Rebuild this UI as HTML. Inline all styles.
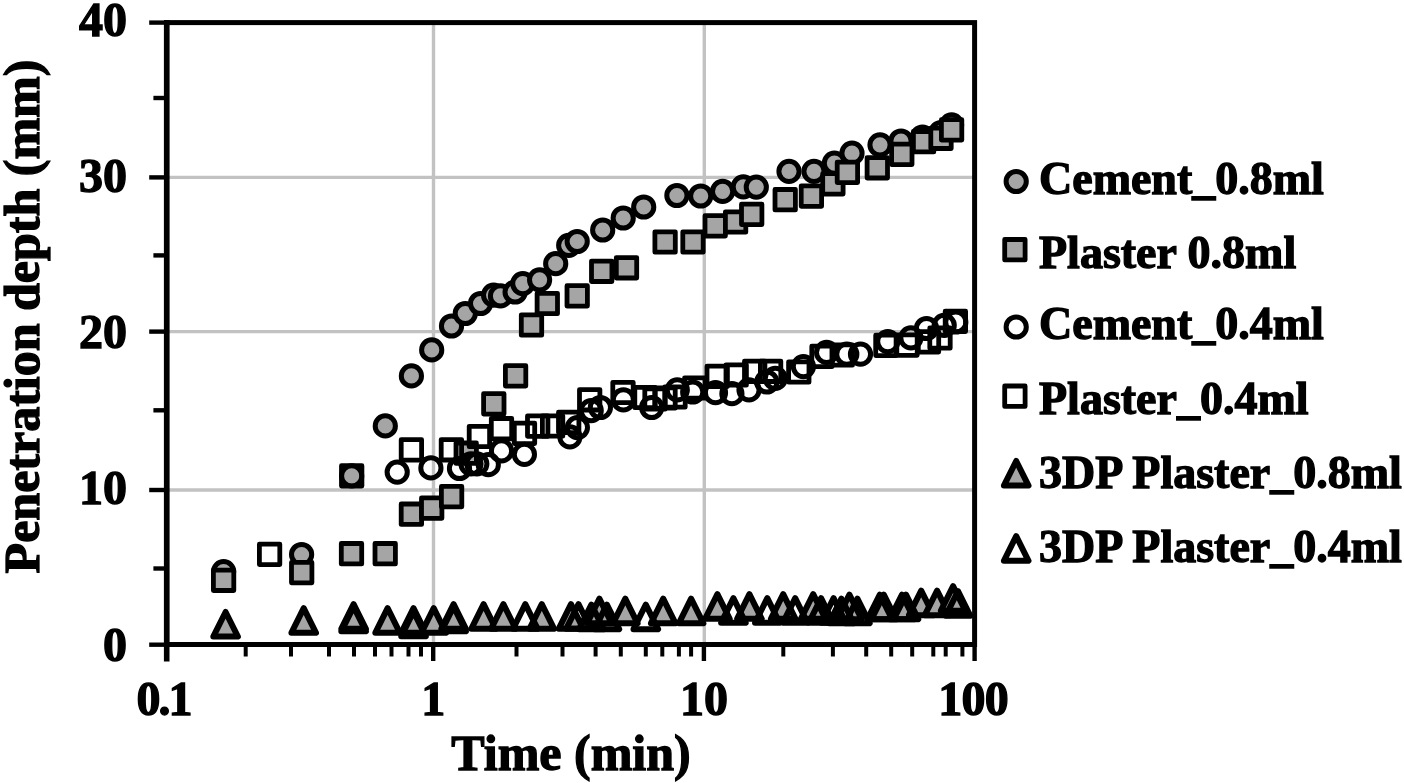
<!DOCTYPE html>
<html><head><meta charset="utf-8"><style>
html,body{margin:0;padding:0;background:#fff;}
body{width:1404px;height:783px;overflow:hidden;font-family:"Liberation Serif",serif;}
svg{display:block;filter:blur(0.45px);}
</style></head><body>
<svg width="1404" height="783" viewBox="0 0 1404 783">
<rect width="1404" height="783" fill="#fff"/>
<line x1="433.5" y1="22.6" x2="433.5" y2="644.5" stroke="#c2c2c2" stroke-width="3.4"/>
<line x1="704.3" y1="22.6" x2="704.3" y2="644.5" stroke="#c2c2c2" stroke-width="3.4"/>
<line x1="166.7" y1="490.0" x2="974.6" y2="490.0" stroke="#c2c2c2" stroke-width="3.4"/>
<line x1="166.7" y1="331.6" x2="974.6" y2="331.6" stroke="#c2c2c2" stroke-width="3.4"/>
<line x1="166.7" y1="177.4" x2="974.6" y2="177.4" stroke="#c2c2c2" stroke-width="3.4"/>
<rect x="166.7" y="22.6" width="807.9" height="621.9" fill="none" stroke="#000" stroke-width="5"/>
<line x1="166.7" y1="20.1" x2="166.7" y2="661.5" stroke="#000" stroke-width="5.6"/>
<line x1="149.2" y1="644.7" x2="166.7" y2="644.7" stroke="#000" stroke-width="4.4"/>
<line x1="153.4" y1="568.5" x2="166.7" y2="568.5" stroke="#000" stroke-width="4.4"/>
<line x1="149.2" y1="490.0" x2="166.7" y2="490.0" stroke="#000" stroke-width="4.4"/>
<line x1="153.4" y1="410.3" x2="166.7" y2="410.3" stroke="#000" stroke-width="4.4"/>
<line x1="149.2" y1="331.6" x2="166.7" y2="331.6" stroke="#000" stroke-width="4.4"/>
<line x1="153.4" y1="255.4" x2="166.7" y2="255.4" stroke="#000" stroke-width="4.4"/>
<line x1="149.2" y1="177.4" x2="166.7" y2="177.4" stroke="#000" stroke-width="4.4"/>
<line x1="153.4" y1="98.0" x2="166.7" y2="98.0" stroke="#000" stroke-width="4.4"/>
<line x1="149.2" y1="22.6" x2="166.7" y2="22.6" stroke="#000" stroke-width="4.4"/>
<line x1="166.7" y1="644.5" x2="166.7" y2="661" stroke="#000" stroke-width="4.4"/>
<line x1="433.2" y1="644.5" x2="433.2" y2="661" stroke="#000" stroke-width="4.4"/>
<line x1="703.9" y1="644.5" x2="703.9" y2="661" stroke="#000" stroke-width="4.4"/>
<line x1="974.6" y1="644.5" x2="974.6" y2="661" stroke="#000" stroke-width="4.4"/>
<line x1="245.7" y1="644.5" x2="245.7" y2="656.5" stroke="#000" stroke-width="4"/>
<line x1="291.0" y1="644.5" x2="291.0" y2="656.5" stroke="#000" stroke-width="4"/>
<line x1="329.0" y1="644.5" x2="329.0" y2="656.5" stroke="#000" stroke-width="4"/>
<line x1="354.0" y1="644.5" x2="354.0" y2="656.5" stroke="#000" stroke-width="4"/>
<line x1="375.0" y1="644.5" x2="375.0" y2="656.5" stroke="#000" stroke-width="4"/>
<line x1="391.5" y1="644.5" x2="391.5" y2="656.5" stroke="#000" stroke-width="4"/>
<line x1="408.5" y1="644.5" x2="408.5" y2="656.5" stroke="#000" stroke-width="4"/>
<line x1="421.0" y1="644.5" x2="421.0" y2="656.5" stroke="#000" stroke-width="4"/>
<line x1="516.5" y1="644.5" x2="516.5" y2="656.5" stroke="#000" stroke-width="4"/>
<line x1="562.5" y1="644.5" x2="562.5" y2="656.5" stroke="#000" stroke-width="4"/>
<line x1="595.6" y1="644.5" x2="595.6" y2="656.5" stroke="#000" stroke-width="4"/>
<line x1="620.8" y1="644.5" x2="620.8" y2="656.5" stroke="#000" stroke-width="4"/>
<line x1="645.8" y1="644.5" x2="645.8" y2="656.5" stroke="#000" stroke-width="4"/>
<line x1="662.3" y1="644.5" x2="662.3" y2="656.5" stroke="#000" stroke-width="4"/>
<line x1="678.9" y1="644.5" x2="678.9" y2="656.5" stroke="#000" stroke-width="4"/>
<line x1="691.1" y1="644.5" x2="691.1" y2="656.5" stroke="#000" stroke-width="4"/>
<line x1="783.3" y1="644.5" x2="783.3" y2="656.5" stroke="#000" stroke-width="4"/>
<line x1="832.9" y1="644.5" x2="832.9" y2="656.5" stroke="#000" stroke-width="4"/>
<line x1="866.2" y1="644.5" x2="866.2" y2="656.5" stroke="#000" stroke-width="4"/>
<line x1="891.2" y1="644.5" x2="891.2" y2="656.5" stroke="#000" stroke-width="4"/>
<line x1="912.2" y1="644.5" x2="912.2" y2="656.5" stroke="#000" stroke-width="4"/>
<line x1="933.3" y1="644.5" x2="933.3" y2="656.5" stroke="#000" stroke-width="4"/>
<line x1="945.7" y1="644.5" x2="945.7" y2="656.5" stroke="#000" stroke-width="4"/>
<line x1="962.4" y1="644.5" x2="962.4" y2="656.5" stroke="#000" stroke-width="4"/>
<circle cx="223.6" cy="571.7" r="10.1" fill="#a5a5a5" stroke="#000" stroke-width="5"/>
<circle cx="301.6" cy="554.5" r="10.1" fill="#a5a5a5" stroke="#000" stroke-width="5"/>
<circle cx="351.7" cy="475.9" r="10.1" fill="#a5a5a5" stroke="#000" stroke-width="5"/>
<circle cx="385.3" cy="425.9" r="10.1" fill="#a5a5a5" stroke="#000" stroke-width="5"/>
<circle cx="411.4" cy="375.9" r="10.1" fill="#a5a5a5" stroke="#000" stroke-width="5"/>
<circle cx="431.7" cy="349.9" r="10.1" fill="#a5a5a5" stroke="#000" stroke-width="5"/>
<circle cx="451.5" cy="326.0" r="10.1" fill="#a5a5a5" stroke="#000" stroke-width="5"/>
<circle cx="465.3" cy="313.5" r="10.1" fill="#a5a5a5" stroke="#000" stroke-width="5"/>
<circle cx="480.6" cy="303.5" r="10.1" fill="#a5a5a5" stroke="#000" stroke-width="5"/>
<circle cx="493.6" cy="295.1" r="10.1" fill="#a5a5a5" stroke="#000" stroke-width="5"/>
<circle cx="500.5" cy="295.9" r="10.1" fill="#a5a5a5" stroke="#000" stroke-width="5"/>
<circle cx="515.1" cy="292.0" r="10.1" fill="#a5a5a5" stroke="#000" stroke-width="5"/>
<circle cx="522.8" cy="283.6" r="10.1" fill="#a5a5a5" stroke="#000" stroke-width="5"/>
<circle cx="539.6" cy="279.8" r="10.1" fill="#a5a5a5" stroke="#000" stroke-width="5"/>
<circle cx="555.7" cy="263.7" r="10.1" fill="#a5a5a5" stroke="#000" stroke-width="5"/>
<circle cx="568.7" cy="245.3" r="10.1" fill="#a5a5a5" stroke="#000" stroke-width="5"/>
<circle cx="577.2" cy="241.5" r="10.1" fill="#a5a5a5" stroke="#000" stroke-width="5"/>
<circle cx="602.7" cy="230.0" r="10.1" fill="#a5a5a5" stroke="#000" stroke-width="5"/>
<circle cx="623.2" cy="218.0" r="10.1" fill="#a5a5a5" stroke="#000" stroke-width="5"/>
<circle cx="643.7" cy="207.0" r="10.1" fill="#a5a5a5" stroke="#000" stroke-width="5"/>
<circle cx="676.9" cy="195.5" r="10.1" fill="#a5a5a5" stroke="#000" stroke-width="5"/>
<circle cx="700.7" cy="196.0" r="10.1" fill="#a5a5a5" stroke="#000" stroke-width="5"/>
<circle cx="722.6" cy="191.4" r="10.1" fill="#a5a5a5" stroke="#000" stroke-width="5"/>
<circle cx="743.3" cy="186.8" r="10.1" fill="#a5a5a5" stroke="#000" stroke-width="5"/>
<circle cx="756.3" cy="187.1" r="10.1" fill="#a5a5a5" stroke="#000" stroke-width="5"/>
<circle cx="789.0" cy="171.3" r="10.1" fill="#a5a5a5" stroke="#000" stroke-width="5"/>
<circle cx="814.0" cy="171.3" r="10.1" fill="#a5a5a5" stroke="#000" stroke-width="5"/>
<circle cx="834.4" cy="163.2" r="10.1" fill="#a5a5a5" stroke="#000" stroke-width="5"/>
<circle cx="852.0" cy="153.2" r="10.1" fill="#a5a5a5" stroke="#000" stroke-width="5"/>
<circle cx="880.0" cy="144.8" r="10.1" fill="#a5a5a5" stroke="#000" stroke-width="5"/>
<circle cx="901.0" cy="141.0" r="10.1" fill="#a5a5a5" stroke="#000" stroke-width="5"/>
<circle cx="922.5" cy="137.0" r="10.1" fill="#a5a5a5" stroke="#000" stroke-width="5"/>
<circle cx="941.0" cy="132.5" r="10.1" fill="#a5a5a5" stroke="#000" stroke-width="5"/>
<circle cx="951.6" cy="124.8" r="10.1" fill="#a5a5a5" stroke="#000" stroke-width="5"/>
<rect x="213.4" y="570.1" width="20.4" height="20.4" fill="#a5a5a5" stroke="#000" stroke-width="4.8" stroke-linejoin="round"/>
<rect x="291.5" y="562.4" width="20.4" height="20.4" fill="#a5a5a5" stroke="#000" stroke-width="4.8" stroke-linejoin="round"/>
<rect x="341.3" y="543.5" width="20.4" height="20.4" fill="#a5a5a5" stroke="#000" stroke-width="4.8" stroke-linejoin="round"/>
<rect x="375.0" y="543.5" width="20.4" height="20.4" fill="#a5a5a5" stroke="#000" stroke-width="4.8" stroke-linejoin="round"/>
<rect x="401.2" y="504.0" width="20.4" height="20.4" fill="#a5a5a5" stroke="#000" stroke-width="4.8" stroke-linejoin="round"/>
<rect x="421.5" y="497.9" width="20.4" height="20.4" fill="#a5a5a5" stroke="#000" stroke-width="4.8" stroke-linejoin="round"/>
<rect x="441.4" y="486.4" width="20.4" height="20.4" fill="#a5a5a5" stroke="#000" stroke-width="4.8" stroke-linejoin="round"/>
<rect x="456.0" y="443.0" width="20.4" height="20.4" fill="#a5a5a5" stroke="#000" stroke-width="4.8" stroke-linejoin="round"/>
<rect x="483.6" y="393.7" width="20.4" height="20.4" fill="#a5a5a5" stroke="#000" stroke-width="4.8" stroke-linejoin="round"/>
<rect x="505.4" y="365.7" width="20.4" height="20.4" fill="#a5a5a5" stroke="#000" stroke-width="4.8" stroke-linejoin="round"/>
<rect x="521.3" y="314.8" width="20.4" height="20.4" fill="#a5a5a5" stroke="#000" stroke-width="4.8" stroke-linejoin="round"/>
<rect x="537.1" y="293.3" width="20.4" height="20.4" fill="#a5a5a5" stroke="#000" stroke-width="4.8" stroke-linejoin="round"/>
<rect x="567.0" y="285.7" width="20.4" height="20.4" fill="#a5a5a5" stroke="#000" stroke-width="4.8" stroke-linejoin="round"/>
<rect x="591.5" y="261.1" width="20.4" height="20.4" fill="#a5a5a5" stroke="#000" stroke-width="4.8" stroke-linejoin="round"/>
<rect x="616.3" y="257.6" width="20.4" height="20.4" fill="#a5a5a5" stroke="#000" stroke-width="4.8" stroke-linejoin="round"/>
<rect x="654.9" y="231.8" width="20.4" height="20.4" fill="#a5a5a5" stroke="#000" stroke-width="4.8" stroke-linejoin="round"/>
<rect x="682.8" y="231.8" width="20.4" height="20.4" fill="#a5a5a5" stroke="#000" stroke-width="4.8" stroke-linejoin="round"/>
<rect x="705.0" y="215.7" width="20.4" height="20.4" fill="#a5a5a5" stroke="#000" stroke-width="4.8" stroke-linejoin="round"/>
<rect x="725.4" y="211.8" width="20.4" height="20.4" fill="#a5a5a5" stroke="#000" stroke-width="4.8" stroke-linejoin="round"/>
<rect x="741.5" y="204.2" width="20.4" height="20.4" fill="#a5a5a5" stroke="#000" stroke-width="4.8" stroke-linejoin="round"/>
<rect x="775.0" y="189.5" width="20.4" height="20.4" fill="#a5a5a5" stroke="#000" stroke-width="4.8" stroke-linejoin="round"/>
<rect x="801.2" y="185.9" width="20.4" height="20.4" fill="#a5a5a5" stroke="#000" stroke-width="4.8" stroke-linejoin="round"/>
<rect x="822.7" y="173.7" width="20.4" height="20.4" fill="#a5a5a5" stroke="#000" stroke-width="4.8" stroke-linejoin="round"/>
<rect x="837.2" y="162.2" width="20.4" height="20.4" fill="#a5a5a5" stroke="#000" stroke-width="4.8" stroke-linejoin="round"/>
<rect x="867.1" y="157.6" width="20.4" height="20.4" fill="#a5a5a5" stroke="#000" stroke-width="4.8" stroke-linejoin="round"/>
<rect x="891.6" y="144.2" width="20.4" height="20.4" fill="#a5a5a5" stroke="#000" stroke-width="4.8" stroke-linejoin="round"/>
<rect x="913.4" y="131.5" width="20.4" height="20.4" fill="#a5a5a5" stroke="#000" stroke-width="4.8" stroke-linejoin="round"/>
<rect x="930.8" y="128.1" width="20.4" height="20.4" fill="#a5a5a5" stroke="#000" stroke-width="4.8" stroke-linejoin="round"/>
<rect x="941.4" y="119.7" width="20.4" height="20.4" fill="#a5a5a5" stroke="#000" stroke-width="4.8" stroke-linejoin="round"/>
<circle cx="397.2" cy="472.1" r="10.1" fill="none" stroke="#000" stroke-width="5"/>
<circle cx="430.9" cy="467.9" r="10.1" fill="none" stroke="#000" stroke-width="5"/>
<circle cx="459.5" cy="468.5" r="10.1" fill="none" stroke="#000" stroke-width="5"/>
<circle cx="471.0" cy="463.8" r="10.1" fill="none" stroke="#000" stroke-width="5"/>
<circle cx="476.8" cy="463.8" r="10.1" fill="none" stroke="#000" stroke-width="5"/>
<circle cx="488.3" cy="464.7" r="10.1" fill="none" stroke="#000" stroke-width="5"/>
<circle cx="501.5" cy="450.9" r="10.1" fill="none" stroke="#000" stroke-width="5"/>
<circle cx="524.4" cy="454.4" r="10.1" fill="none" stroke="#000" stroke-width="5"/>
<circle cx="569.9" cy="436.8" r="10.1" fill="none" stroke="#000" stroke-width="5"/>
<circle cx="577.4" cy="427.6" r="10.1" fill="none" stroke="#000" stroke-width="5"/>
<circle cx="591.2" cy="410.6" r="10.1" fill="none" stroke="#000" stroke-width="5"/>
<circle cx="600.4" cy="407.5" r="10.1" fill="none" stroke="#000" stroke-width="5"/>
<circle cx="623.4" cy="399.8" r="10.1" fill="none" stroke="#000" stroke-width="5"/>
<circle cx="651.7" cy="407.5" r="10.1" fill="none" stroke="#000" stroke-width="5"/>
<circle cx="677.3" cy="389.8" r="10.1" fill="none" stroke="#000" stroke-width="5"/>
<circle cx="692.7" cy="392.0" r="10.1" fill="none" stroke="#000" stroke-width="5"/>
<circle cx="715.5" cy="392.7" r="10.1" fill="none" stroke="#000" stroke-width="5"/>
<circle cx="731.9" cy="393.7" r="10.1" fill="none" stroke="#000" stroke-width="5"/>
<circle cx="749.0" cy="389.8" r="10.1" fill="none" stroke="#000" stroke-width="5"/>
<circle cx="766.8" cy="382.0" r="10.1" fill="none" stroke="#000" stroke-width="5"/>
<circle cx="775.3" cy="378.4" r="10.1" fill="none" stroke="#000" stroke-width="5"/>
<circle cx="803.4" cy="366.6" r="10.1" fill="none" stroke="#000" stroke-width="5"/>
<circle cx="826.6" cy="352.4" r="10.1" fill="none" stroke="#000" stroke-width="5"/>
<circle cx="846.8" cy="354.1" r="10.1" fill="none" stroke="#000" stroke-width="5"/>
<circle cx="860.5" cy="354.1" r="10.1" fill="none" stroke="#000" stroke-width="5"/>
<circle cx="887.8" cy="341.6" r="10.1" fill="none" stroke="#000" stroke-width="5"/>
<circle cx="910.9" cy="337.8" r="10.1" fill="none" stroke="#000" stroke-width="5"/>
<circle cx="926.5" cy="328.5" r="10.1" fill="none" stroke="#000" stroke-width="5"/>
<circle cx="944.2" cy="325.3" r="10.1" fill="none" stroke="#000" stroke-width="5"/>
<circle cx="955.8" cy="322.0" r="10.1" fill="none" stroke="#000" stroke-width="5"/>
<rect x="259.4" y="544.2" width="20.4" height="20.4" fill="none" stroke="#000" stroke-width="4.8" stroke-linejoin="round"/>
<rect x="341.5" y="465.7" width="20.4" height="20.4" fill="none" stroke="#000" stroke-width="4.8" stroke-linejoin="round"/>
<rect x="401.2" y="439.7" width="20.4" height="20.4" fill="none" stroke="#000" stroke-width="4.8" stroke-linejoin="round"/>
<rect x="441.2" y="439.6" width="20.4" height="20.4" fill="none" stroke="#000" stroke-width="4.8" stroke-linejoin="round"/>
<rect x="469.2" y="426.3" width="20.4" height="20.4" fill="none" stroke="#000" stroke-width="4.8" stroke-linejoin="round"/>
<rect x="491.3" y="418.5" width="20.4" height="20.4" fill="none" stroke="#000" stroke-width="4.8" stroke-linejoin="round"/>
<rect x="514.3" y="423.2" width="20.4" height="20.4" fill="none" stroke="#000" stroke-width="4.8" stroke-linejoin="round"/>
<rect x="527.5" y="415.9" width="20.4" height="20.4" fill="none" stroke="#000" stroke-width="4.8" stroke-linejoin="round"/>
<rect x="542.4" y="415.8" width="20.4" height="20.4" fill="none" stroke="#000" stroke-width="4.8" stroke-linejoin="round"/>
<rect x="558.5" y="412.2" width="20.4" height="20.4" fill="none" stroke="#000" stroke-width="4.8" stroke-linejoin="round"/>
<rect x="579.5" y="389.6" width="20.4" height="20.4" fill="none" stroke="#000" stroke-width="4.8" stroke-linejoin="round"/>
<rect x="612.8" y="382.3" width="20.4" height="20.4" fill="none" stroke="#000" stroke-width="4.8" stroke-linejoin="round"/>
<rect x="634.8" y="387.3" width="20.4" height="20.4" fill="none" stroke="#000" stroke-width="4.8" stroke-linejoin="round"/>
<rect x="644.8" y="388.8" width="20.4" height="20.4" fill="none" stroke="#000" stroke-width="4.8" stroke-linejoin="round"/>
<rect x="654.8" y="387.8" width="20.4" height="20.4" fill="none" stroke="#000" stroke-width="4.8" stroke-linejoin="round"/>
<rect x="664.8" y="386.8" width="20.4" height="20.4" fill="none" stroke="#000" stroke-width="4.8" stroke-linejoin="round"/>
<rect x="684.6" y="377.8" width="20.4" height="20.4" fill="none" stroke="#000" stroke-width="4.8" stroke-linejoin="round"/>
<rect x="707.0" y="366.2" width="20.4" height="20.4" fill="none" stroke="#000" stroke-width="4.8" stroke-linejoin="round"/>
<rect x="726.0" y="364.8" width="20.4" height="20.4" fill="none" stroke="#000" stroke-width="4.8" stroke-linejoin="round"/>
<rect x="744.5" y="361.1" width="20.4" height="20.4" fill="none" stroke="#000" stroke-width="4.8" stroke-linejoin="round"/>
<rect x="760.4" y="361.1" width="20.4" height="20.4" fill="none" stroke="#000" stroke-width="4.8" stroke-linejoin="round"/>
<rect x="788.6" y="361.8" width="20.4" height="20.4" fill="none" stroke="#000" stroke-width="4.8" stroke-linejoin="round"/>
<rect x="811.8" y="346.2" width="20.4" height="20.4" fill="none" stroke="#000" stroke-width="4.8" stroke-linejoin="round"/>
<rect x="832.1" y="344.8" width="20.4" height="20.4" fill="none" stroke="#000" stroke-width="4.8" stroke-linejoin="round"/>
<rect x="875.7" y="335.2" width="20.4" height="20.4" fill="none" stroke="#000" stroke-width="4.8" stroke-linejoin="round"/>
<rect x="896.8" y="334.9" width="20.4" height="20.4" fill="none" stroke="#000" stroke-width="4.8" stroke-linejoin="round"/>
<rect x="918.3" y="331.7" width="20.4" height="20.4" fill="none" stroke="#000" stroke-width="4.8" stroke-linejoin="round"/>
<rect x="929.8" y="327.8" width="20.4" height="20.4" fill="none" stroke="#000" stroke-width="4.8" stroke-linejoin="round"/>
<rect x="945.2" y="311.2" width="20.4" height="20.4" fill="none" stroke="#000" stroke-width="4.8" stroke-linejoin="round"/>
<path d="M225.6,612.0 L237.9,636.6 L213.3,636.6 Z" fill="#a5a5a5" stroke="#000" stroke-width="6" stroke-linejoin="round"/>
<path d="M303.7,608.2 L316.0,632.8 L291.4,632.8 Z" fill="#a5a5a5" stroke="#000" stroke-width="6" stroke-linejoin="round"/>
<path d="M353.6,604.2 L365.9,628.8 L341.3,628.8 Z" fill="#a5a5a5" stroke="#000" stroke-width="6" stroke-linejoin="round"/>
<path d="M387.6,608.2 L399.9,632.8 L375.3,632.8 Z" fill="#a5a5a5" stroke="#000" stroke-width="6" stroke-linejoin="round"/>
<path d="M413.5,608.2 L425.8,632.8 L401.2,632.8 Z" fill="#a5a5a5" stroke="#000" stroke-width="6" stroke-linejoin="round"/>
<path d="M433.7,608.2 L446.0,632.8 L421.4,632.8 Z" fill="#a5a5a5" stroke="#000" stroke-width="6" stroke-linejoin="round"/>
<path d="M453.6,604.2 L465.9,628.8 L441.3,628.8 Z" fill="#a5a5a5" stroke="#000" stroke-width="6" stroke-linejoin="round"/>
<path d="M483.6,604.2 L495.9,628.8 L471.3,628.8 Z" fill="#a5a5a5" stroke="#000" stroke-width="6" stroke-linejoin="round"/>
<path d="M503.4,604.2 L515.7,628.8 L491.1,628.8 Z" fill="#a5a5a5" stroke="#000" stroke-width="6" stroke-linejoin="round"/>
<path d="M541.8,604.2 L554.1,628.8 L529.5,628.8 Z" fill="#a5a5a5" stroke="#000" stroke-width="6" stroke-linejoin="round"/>
<path d="M571.0,604.2 L583.3,628.8 L558.7,628.8 Z" fill="#a5a5a5" stroke="#000" stroke-width="6" stroke-linejoin="round"/>
<path d="M599.4,598.7 L611.7,623.3 L587.1,623.3 Z" fill="#a5a5a5" stroke="#000" stroke-width="6" stroke-linejoin="round"/>
<path d="M625.3,598.7 L637.6,623.3 L613.0,623.3 Z" fill="#a5a5a5" stroke="#000" stroke-width="6" stroke-linejoin="round"/>
<path d="M663.2,598.7 L675.5,623.3 L650.9,623.3 Z" fill="#a5a5a5" stroke="#000" stroke-width="6" stroke-linejoin="round"/>
<path d="M691.1,598.7 L703.4,623.3 L678.8,623.3 Z" fill="#a5a5a5" stroke="#000" stroke-width="6" stroke-linejoin="round"/>
<path d="M717.4,594.2 L729.7,618.8 L705.1,618.8 Z" fill="#a5a5a5" stroke="#000" stroke-width="6" stroke-linejoin="round"/>
<path d="M749.4,594.2 L761.7,618.8 L737.1,618.8 Z" fill="#a5a5a5" stroke="#000" stroke-width="6" stroke-linejoin="round"/>
<path d="M783.2,594.2 L795.5,618.8 L770.9,618.8 Z" fill="#a5a5a5" stroke="#000" stroke-width="6" stroke-linejoin="round"/>
<path d="M813.2,594.2 L825.5,618.8 L800.9,618.8 Z" fill="#a5a5a5" stroke="#000" stroke-width="6" stroke-linejoin="round"/>
<path d="M849.4,594.6 L861.7,619.2 L837.1,619.2 Z" fill="#a5a5a5" stroke="#000" stroke-width="6" stroke-linejoin="round"/>
<path d="M879.8,594.6 L892.1,619.2 L867.5,619.2 Z" fill="#a5a5a5" stroke="#000" stroke-width="6" stroke-linejoin="round"/>
<path d="M902.0,594.6 L914.3,619.2 L889.7,619.2 Z" fill="#a5a5a5" stroke="#000" stroke-width="6" stroke-linejoin="round"/>
<path d="M921.2,590.6 L933.5,615.2 L908.9,615.2 Z" fill="#a5a5a5" stroke="#000" stroke-width="6" stroke-linejoin="round"/>
<path d="M937.1,590.6 L949.4,615.2 L924.8,615.2 Z" fill="#a5a5a5" stroke="#000" stroke-width="6" stroke-linejoin="round"/>
<path d="M953.1,586.2 L965.4,610.8 L940.8,610.8 Z" fill="#a5a5a5" stroke="#000" stroke-width="6" stroke-linejoin="round"/>
<path d="M353.6,606.7 L365.9,631.3 L341.3,631.3 Z" fill="none" stroke="#000" stroke-width="6" stroke-linejoin="round"/>
<path d="M413.5,611.7 L425.8,636.3 L401.2,636.3 Z" fill="none" stroke="#000" stroke-width="6" stroke-linejoin="round"/>
<path d="M453.6,606.7 L465.9,631.3 L441.3,631.3 Z" fill="none" stroke="#000" stroke-width="6" stroke-linejoin="round"/>
<path d="M525.3,604.2 L537.6,628.8 L513.0,628.8 Z" fill="none" stroke="#000" stroke-width="6" stroke-linejoin="round"/>
<path d="M578.5,604.2 L590.8,628.8 L566.2,628.8 Z" fill="none" stroke="#000" stroke-width="6" stroke-linejoin="round"/>
<path d="M591.4,604.6 L603.7,629.2 L579.1,629.2 Z" fill="none" stroke="#000" stroke-width="6" stroke-linejoin="round"/>
<path d="M606.9,604.6 L619.2,629.2 L594.6,629.2 Z" fill="none" stroke="#000" stroke-width="6" stroke-linejoin="round"/>
<path d="M645.8,604.6 L658.1,629.2 L633.5,629.2 Z" fill="none" stroke="#000" stroke-width="6" stroke-linejoin="round"/>
<path d="M733.4,598.2 L745.7,622.8 L721.1,622.8 Z" fill="none" stroke="#000" stroke-width="6" stroke-linejoin="round"/>
<path d="M767.3,598.2 L779.6,622.8 L755.0,622.8 Z" fill="none" stroke="#000" stroke-width="6" stroke-linejoin="round"/>
<path d="M795.2,598.2 L807.5,622.8 L782.9,622.8 Z" fill="none" stroke="#000" stroke-width="6" stroke-linejoin="round"/>
<path d="M821.1,598.2 L833.4,622.8 L808.8,622.8 Z" fill="none" stroke="#000" stroke-width="6" stroke-linejoin="round"/>
<path d="M833.6,598.2 L845.9,622.8 L821.3,622.8 Z" fill="none" stroke="#000" stroke-width="6" stroke-linejoin="round"/>
<path d="M841.4,598.6 L853.7,623.2 L829.1,623.2 Z" fill="none" stroke="#000" stroke-width="6" stroke-linejoin="round"/>
<path d="M857.4,598.6 L869.7,623.2 L845.1,623.2 Z" fill="none" stroke="#000" stroke-width="6" stroke-linejoin="round"/>
<path d="M883.8,594.6 L896.1,619.2 L871.5,619.2 Z" fill="none" stroke="#000" stroke-width="6" stroke-linejoin="round"/>
<path d="M906.0,594.6 L918.3,619.2 L893.7,619.2 Z" fill="none" stroke="#000" stroke-width="6" stroke-linejoin="round"/>
<path d="M958.0,591.2 L970.3,615.8 L945.7,615.8 Z" fill="none" stroke="#000" stroke-width="6" stroke-linejoin="round"/>
<text x="127" y="35.9" font-family="Liberation Serif" font-weight="bold" stroke="#000" stroke-width="1.3" font-size="48" text-anchor="end">40</text>
<text x="127" y="192.3" font-family="Liberation Serif" font-weight="bold" stroke="#000" stroke-width="1.3" font-size="48" text-anchor="end">30</text>
<text x="127" y="347.5" font-family="Liberation Serif" font-weight="bold" stroke="#000" stroke-width="1.3" font-size="48" text-anchor="end">20</text>
<text x="127" y="503.5" font-family="Liberation Serif" font-weight="bold" stroke="#000" stroke-width="1.3" font-size="48" text-anchor="end">10</text>
<text x="127" y="661.0" font-family="Liberation Serif" font-weight="bold" stroke="#000" stroke-width="1.3" font-size="48" text-anchor="end">0</text>
<text x="164.5" y="714.9" font-family="Liberation Serif" font-weight="bold" stroke="#000" stroke-width="1.3" font-size="48" text-anchor="middle" textLength="56" lengthAdjust="spacing">0.1</text>
<text x="433.2" y="714.9" font-family="Liberation Serif" font-weight="bold" stroke="#000" stroke-width="1.3" font-size="48" text-anchor="middle">1</text>
<text x="704.0" y="714.9" font-family="Liberation Serif" font-weight="bold" stroke="#000" stroke-width="1.3" font-size="48" text-anchor="middle">10</text>
<text x="973.5" y="714.9" font-family="Liberation Serif" font-weight="bold" stroke="#000" stroke-width="1.3" font-size="48" text-anchor="middle" textLength="70.5" lengthAdjust="spacing">100</text>
<text x="571" y="770" font-family="Liberation Serif" font-weight="bold" stroke="#000" stroke-width="1.3" font-size="50" text-anchor="middle">Time (min)</text>
<text transform="translate(38.5,316.5) rotate(-90)" font-family="Liberation Serif" font-weight="bold" stroke="#000" stroke-width="1.3" font-size="50" text-anchor="middle">Penetration depth (mm)</text>
<circle cx="1016.2" cy="181.5" r="10.1" fill="#a5a5a5" stroke="#000" stroke-width="5"/>
<text x="1039" y="194.2" font-family="Liberation Serif" font-weight="bold" stroke="#000" stroke-width="1.3" font-size="46">Cement_0.8ml</text>
<rect x="1004.7" y="239.5" width="20.4" height="20.4" fill="#a5a5a5" stroke="#000" stroke-width="4.8" stroke-linejoin="round"/>
<text x="1039" y="267.8" font-family="Liberation Serif" font-weight="bold" stroke="#000" stroke-width="1.3" font-size="46">Plaster 0.8ml</text>
<circle cx="1016.2" cy="327.0" r="10.1" fill="none" stroke="#000" stroke-width="5"/>
<text x="1039" y="339.2" font-family="Liberation Serif" font-weight="bold" stroke="#000" stroke-width="1.3" font-size="46">Cement_0.4ml</text>
<rect x="1004.7" y="386.0" width="20.4" height="20.4" fill="none" stroke="#000" stroke-width="4.8" stroke-linejoin="round"/>
<text x="1039" y="414.0" font-family="Liberation Serif" font-weight="bold" stroke="#000" stroke-width="1.3" font-size="46">Plaster_0.4ml</text>
<path d="M1016.2,461.0 L1028.5,485.6 L1003.9,485.6 Z" fill="#a5a5a5" stroke="#000" stroke-width="6" stroke-linejoin="round"/>
<text x="1039" y="488.3" font-family="Liberation Serif" font-weight="bold" stroke="#000" stroke-width="1.3" font-size="46">3DP Plaster_0.8ml</text>
<path d="M1016.2,536.2 L1028.5,560.8 L1003.9,560.8 Z" fill="none" stroke="#000" stroke-width="6" stroke-linejoin="round"/>
<text x="1039" y="562.0" font-family="Liberation Serif" font-weight="bold" stroke="#000" stroke-width="1.3" font-size="46">3DP Plaster_0.4ml</text>
</svg>
</body></html>
